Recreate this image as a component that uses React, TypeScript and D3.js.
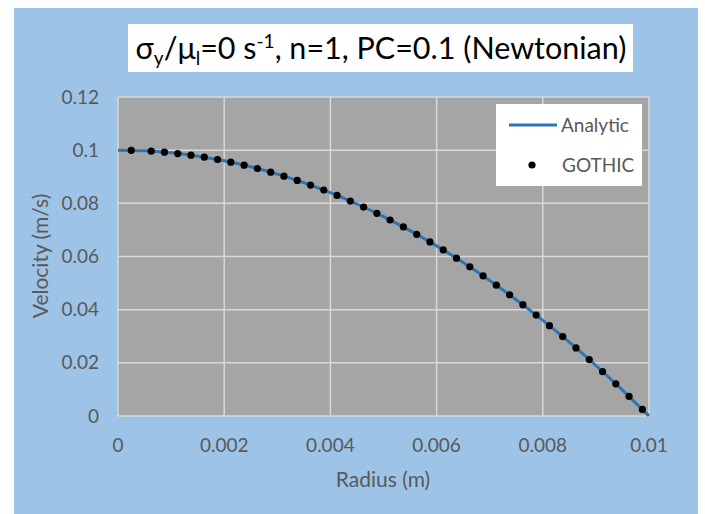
import React from 'react'
import * as d3 from 'd3'

// GOTHIC cell-centre results
const gothicRadius = [
  0.00025, 0.000625, 0.000875, 0.001125, 0.001375, 0.001625, 0.001875, 0.002125,
  0.002375, 0.002625, 0.002875, 0.003125, 0.003375, 0.003625, 0.003875, 0.004125,
  0.004375, 0.004625, 0.004875, 0.005125, 0.005375, 0.005625, 0.005875, 0.006125,
  0.006375, 0.006625, 0.006875, 0.007125, 0.007375, 0.007625, 0.007875, 0.008125,
  0.008375, 0.008625, 0.008875, 0.009125, 0.009375, 0.009625, 0.009875
]
const gothicVelocity = [
  0.09994, 0.09961, 0.09923, 0.09873, 0.09811, 0.09736, 0.09648, 0.09548,
  0.09436, 0.09311, 0.09173, 0.09023, 0.08861, 0.08686, 0.08498, 0.08298,
  0.08086, 0.07861, 0.07623, 0.07373, 0.07111, 0.06836, 0.06548, 0.06248,
  0.05936, 0.05611, 0.05273, 0.04923, 0.04561, 0.04186, 0.03798, 0.03398,
  0.02986, 0.02561, 0.02123, 0.01673, 0.01211, 0.00736, 0.00248
]

const analyticRadius = [
  0, 0.0005, 0.001, 0.0015, 0.002, 0.0025, 0.003, 0.0035, 0.004, 0.0045, 0.005,
  0.0055, 0.006, 0.0065, 0.007, 0.0075, 0.008, 0.0085, 0.009, 0.0095, 0.01
]
const analyticVelocity = [
  0.1, 0.09975, 0.099, 0.09775, 0.096, 0.09375, 0.091, 0.08775, 0.084, 0.07975, 0.075,
  0.06975, 0.064, 0.05775, 0.051, 0.04375, 0.036, 0.02775, 0.019, 0.00975, 0
]

const xTicks = [0, 0.002, 0.004, 0.006, 0.008, 0.01]
const yTicks = [0, 0.02, 0.04, 0.06, 0.08, 0.1, 0.12]

const font = 'Lato, "Open Sans", sans-serif'
const grey = '#595959'

export default function App() {
  const plot = { left: 118, top: 97, right: 649, bottom: 416 }

  const xScale = d3.scaleLinear().domain([0, 0.01]).range([plot.left, plot.right])
  const yScale = d3.scaleLinear().domain([0, 0.12]).range([plot.bottom, plot.top])

  const analytic = analyticRadius.map((r, i) => [r, analyticVelocity[i]] as [number, number])
  const lineGen = d3.line<[number, number]>()
    .x(d => xScale(d[0]))
    .y(d => yScale(d[1]))
    .curve(d3.curveMonotoneX)

  return (
    <svg width={705} height={514} style={{ position: 'absolute', left: 0, top: 0 }}>
      <rect x={0} y={0} width={705} height={514} fill="#ffffff" />
      <rect x={14} y={8} width={684} height={506} fill="#9dc3e6" />

      {/* title box */}
      <rect x={128} y={24} width={505} height={48} fill="#ffffff" />
      <text x={381} y={59} textAnchor="middle" fontFamily={font} fontSize={30.5} fill="#000">
        <tspan>σ</tspan>
        <tspan fontSize={19} dy={6}>y</tspan>
        <tspan dy={-6}>/μ</tspan>
        <tspan fontSize={19} dy={6}>l</tspan>
        <tspan dy={-6}>=0 s</tspan>
        <tspan fontSize={19} dy={-11}>-1</tspan>
        <tspan dy={11}>, n=1, PC=0.1 (Newtonian)</tspan>
      </text>

      {/* plot area */}
      <rect x={plot.left} y={plot.top} width={plot.right - plot.left} height={plot.bottom - plot.top} fill="#a5a5a5" />
      {yTicks.map(t => (
        <line key={'gy' + t} x1={plot.left} x2={plot.right} y1={yScale(t)} y2={yScale(t)}
          stroke="#d9d9d9" strokeWidth={1.5} />
      ))}
      {xTicks.map(t => (
        <line key={'gx' + t} x1={xScale(t)} x2={xScale(t)} y1={plot.top} y2={plot.bottom}
          stroke="#d9d9d9" strokeWidth={1.5} />
      ))}

      <path d={lineGen(analytic) || ''} fill="none" stroke="#2e75b6" strokeWidth={3} />
      {gothicRadius.map((r, i) => (
        <circle key={'p' + i} cx={xScale(r)} cy={yScale(gothicVelocity[i])} r={3.6} fill="#000" />
      ))}

      {/* axes labels */}
      {yTicks.map(t => (
        <text key={'ly' + t} x={99} y={yScale(t)} dy="0.35em" textAnchor="end"
          fontFamily={font} fontSize={19} fill={grey}>{d3.format('~g')(t)}</text>
      ))}
      {xTicks.map(t => (
        <text key={'lx' + t} x={xScale(t)} y={445} dy="0.35em" textAnchor="middle"
          fontFamily={font} fontSize={19} fill={grey}>{d3.format('~g')(t)}</text>
      ))}
      <text x={383} y={480} dy="0.35em" textAnchor="middle" fontFamily={font} fontSize={21} fill={grey}>
        Radius (m)
      </text>
      <text transform="translate(41,256) rotate(-90)" dy="0.35em" textAnchor="middle"
        fontFamily={font} fontSize={21} fill={grey}>
        Velocity (m/s)
      </text>

      {/* legend */}
      <rect x={496} y={104} width={146} height={82} fill="#ffffff" />
      <line x1={509} x2={557} y1={125} y2={125} stroke="#2e75b6" strokeWidth={3} />
      <text x={561} y={125} dy="0.35em" fontFamily={font} fontSize={19} fill={grey}>Analytic</text>
      <circle cx={532} cy={165} r={3.6} fill="#000" />
      <text x={562} y={165} dy="0.35em" fontFamily={font} fontSize={19} fill={grey}>GOTHIC</text>
    </svg>
  )
}
